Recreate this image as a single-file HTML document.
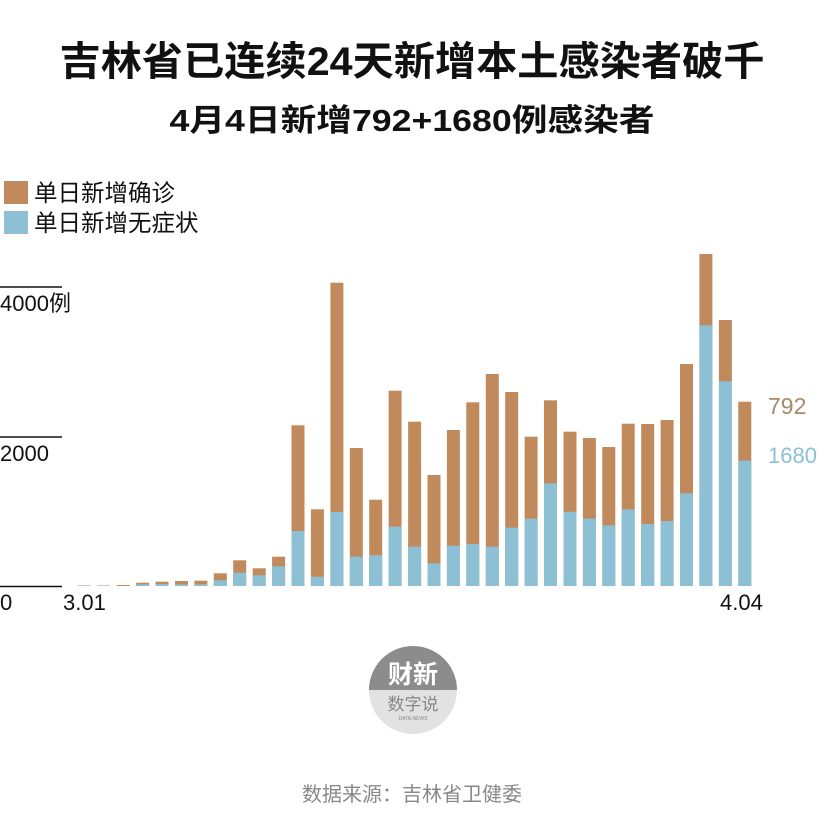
<!DOCTYPE html>
<html><head><meta charset="utf-8"><style>
html,body{margin:0;padding:0;background:#fff;}
svg{display:block;}
text{font-family:"Liberation Sans","Noto Sans CJK SC",sans-serif;}
</style></head><body>
<svg width="824" height="827" viewBox="0 0 824 827" xmlns="http://www.w3.org/2000/svg">
<rect width="824" height="827" fill="#fff"/>
<text x="412" y="75" text-anchor="middle" font-size="40" font-weight="bold" fill="#111" textLength="705" lengthAdjust="spacingAndGlyphs">吉林省已连续24天新增本土感染者破千</text>
<text x="412" y="131" text-anchor="middle" font-size="31" font-weight="bold" fill="#111" textLength="485" lengthAdjust="spacingAndGlyphs">4月4日新增792+1680例感染者</text>
<rect x="4" y="181" width="24" height="23" fill="#c08a5c"/>
<rect x="4" y="211" width="24" height="23" fill="#8dbfd5"/>
<text x="34" y="201" font-size="23.5" fill="#111">单日新增确诊</text>
<text x="34" y="231" font-size="23.5" fill="#111">单日新增无症状</text>
<line x1="0" y1="287" x2="62" y2="287" stroke="#111" stroke-width="1.5"/>
<line x1="0" y1="437" x2="62" y2="437" stroke="#111" stroke-width="1.5"/>
<line x1="0" y1="586.5" x2="62" y2="586.5" stroke="#111" stroke-width="1.5"/>
<text x="0" y="311" font-size="22" fill="#111">4000例</text>
<text x="0" y="461" font-size="22" fill="#111">2000</text>
<text x="0" y="610" font-size="22" fill="#111">0</text>
<text x="63" y="610" font-size="22" fill="#111">3.01</text>
<text x="720" y="610" font-size="22" fill="#111">4.04</text>
<text x="768" y="414" font-size="23" fill="#a88a6a">792</text>
<text x="768" y="463" font-size="22" fill="#8dbfd5">1680</text>
<circle cx="413" cy="690" r="44" fill="#e2e2e2"/>
<path d="M369,690 A44,44 0 0 1 457,690 Z" fill="#8c8c8c"/>
<text x="413" y="683" text-anchor="middle" font-size="25" font-weight="bold" fill="#fff">财新</text>
<text x="413" y="710" text-anchor="middle" font-size="17" fill="#888">数字说</text>
<text x="413" y="720" text-anchor="middle" font-size="5" fill="#888">DATA.NEWS</text>
<text x="412" y="801" text-anchor="middle" font-size="20" fill="#888">数据来源：吉林省卫健委</text>
<g>
<rect x="77.8" y="585.5" width="13" height="0.5" fill="#c08a5c"/>
<rect x="97.2" y="585.5" width="13" height="0.5" fill="#c08a5c"/>
<rect x="116.7" y="585" width="13" height="1" fill="#c08a5c"/>
<rect x="136.1" y="582.7" width="13" height="3.3" fill="#c08a5c"/><rect x="136.1" y="584.3" width="13" height="1.7" fill="#8dbfd5"/>
<rect x="155.5" y="581.7" width="13" height="4.3" fill="#c08a5c"/><rect x="155.5" y="584" width="13" height="2" fill="#8dbfd5"/>
<rect x="175" y="581" width="13" height="5" fill="#c08a5c"/><rect x="175" y="584.3" width="13" height="1.7" fill="#8dbfd5"/>
<rect x="194.4" y="580.7" width="13" height="5.3" fill="#c08a5c"/><rect x="194.4" y="584.3" width="13" height="1.7" fill="#8dbfd5"/>
<rect x="213.8" y="573.3" width="13" height="12.7" fill="#c08a5c"/><rect x="213.8" y="580.3" width="13" height="5.7" fill="#8dbfd5"/>
<rect x="233.2" y="560.3" width="13" height="25.7" fill="#c08a5c"/><rect x="233.2" y="572.7" width="13" height="13.3" fill="#8dbfd5"/>
<rect x="252.7" y="568.3" width="13" height="17.7" fill="#c08a5c"/><rect x="252.7" y="575.3" width="13" height="10.7" fill="#8dbfd5"/>
<rect x="272.1" y="556.7" width="13" height="29.3" fill="#c08a5c"/><rect x="272.1" y="566.3" width="13" height="19.7" fill="#8dbfd5"/>
<rect x="291.5" y="425.3" width="13" height="160.7" fill="#c08a5c"/><rect x="291.5" y="531" width="13" height="55" fill="#8dbfd5"/>
<rect x="310.9" y="509.3" width="13" height="76.7" fill="#c08a5c"/><rect x="310.9" y="576.7" width="13" height="9.3" fill="#8dbfd5"/>
<rect x="330.4" y="282.7" width="13" height="303.3" fill="#c08a5c"/><rect x="330.4" y="512" width="13" height="74" fill="#8dbfd5"/>
<rect x="349.8" y="448" width="13" height="138" fill="#c08a5c"/><rect x="349.8" y="556.7" width="13" height="29.3" fill="#8dbfd5"/>
<rect x="369.2" y="499.7" width="13" height="86.3" fill="#c08a5c"/><rect x="369.2" y="555.3" width="13" height="30.7" fill="#8dbfd5"/>
<rect x="388.6" y="390.7" width="13" height="195.3" fill="#c08a5c"/><rect x="388.6" y="526.7" width="13" height="59.3" fill="#8dbfd5"/>
<rect x="408.1" y="421.7" width="13" height="164.3" fill="#c08a5c"/><rect x="408.1" y="546.7" width="13" height="39.3" fill="#8dbfd5"/>
<rect x="427.5" y="475" width="13" height="111" fill="#c08a5c"/><rect x="427.5" y="563.3" width="13" height="22.7" fill="#8dbfd5"/>
<rect x="446.9" y="430" width="13" height="156" fill="#c08a5c"/><rect x="446.9" y="545.7" width="13" height="40.3" fill="#8dbfd5"/>
<rect x="466.3" y="402.3" width="13" height="183.7" fill="#c08a5c"/><rect x="466.3" y="544" width="13" height="42" fill="#8dbfd5"/>
<rect x="485.8" y="374" width="13" height="212" fill="#c08a5c"/><rect x="485.8" y="546.7" width="13" height="39.3" fill="#8dbfd5"/>
<rect x="505.2" y="392" width="13" height="194" fill="#c08a5c"/><rect x="505.2" y="527.7" width="13" height="58.3" fill="#8dbfd5"/>
<rect x="524.6" y="436.7" width="13" height="149.3" fill="#c08a5c"/><rect x="524.6" y="518.7" width="13" height="67.3" fill="#8dbfd5"/>
<rect x="544" y="400.3" width="13" height="185.7" fill="#c08a5c"/><rect x="544" y="483.3" width="13" height="102.7" fill="#8dbfd5"/>
<rect x="563.5" y="431.7" width="13" height="154.3" fill="#c08a5c"/><rect x="563.5" y="511.7" width="13" height="74.3" fill="#8dbfd5"/>
<rect x="582.9" y="438" width="13" height="148" fill="#c08a5c"/><rect x="582.9" y="518.7" width="13" height="67.3" fill="#8dbfd5"/>
<rect x="602.3" y="447" width="13" height="139" fill="#c08a5c"/><rect x="602.3" y="525.3" width="13" height="60.7" fill="#8dbfd5"/>
<rect x="621.7" y="423.7" width="13" height="162.3" fill="#c08a5c"/><rect x="621.7" y="509.3" width="13" height="76.7" fill="#8dbfd5"/>
<rect x="641.2" y="424" width="13" height="162" fill="#c08a5c"/><rect x="641.2" y="524" width="13" height="62" fill="#8dbfd5"/>
<rect x="660.6" y="420" width="13" height="166" fill="#c08a5c"/><rect x="660.6" y="521" width="13" height="65" fill="#8dbfd5"/>
<rect x="680" y="364" width="13" height="222" fill="#c08a5c"/><rect x="680" y="493.3" width="13" height="92.7" fill="#8dbfd5"/>
<rect x="699.4" y="254" width="13" height="332" fill="#c08a5c"/><rect x="699.4" y="325.3" width="13" height="260.7" fill="#8dbfd5"/>
<rect x="718.9" y="320" width="13" height="266" fill="#c08a5c"/><rect x="718.9" y="381.3" width="13" height="204.7" fill="#8dbfd5"/>
<rect x="738.3" y="401.7" width="13" height="184.3" fill="#c08a5c"/><rect x="738.3" y="460.7" width="13" height="125.3" fill="#8dbfd5"/>
</g>
</svg>
</body></html>
